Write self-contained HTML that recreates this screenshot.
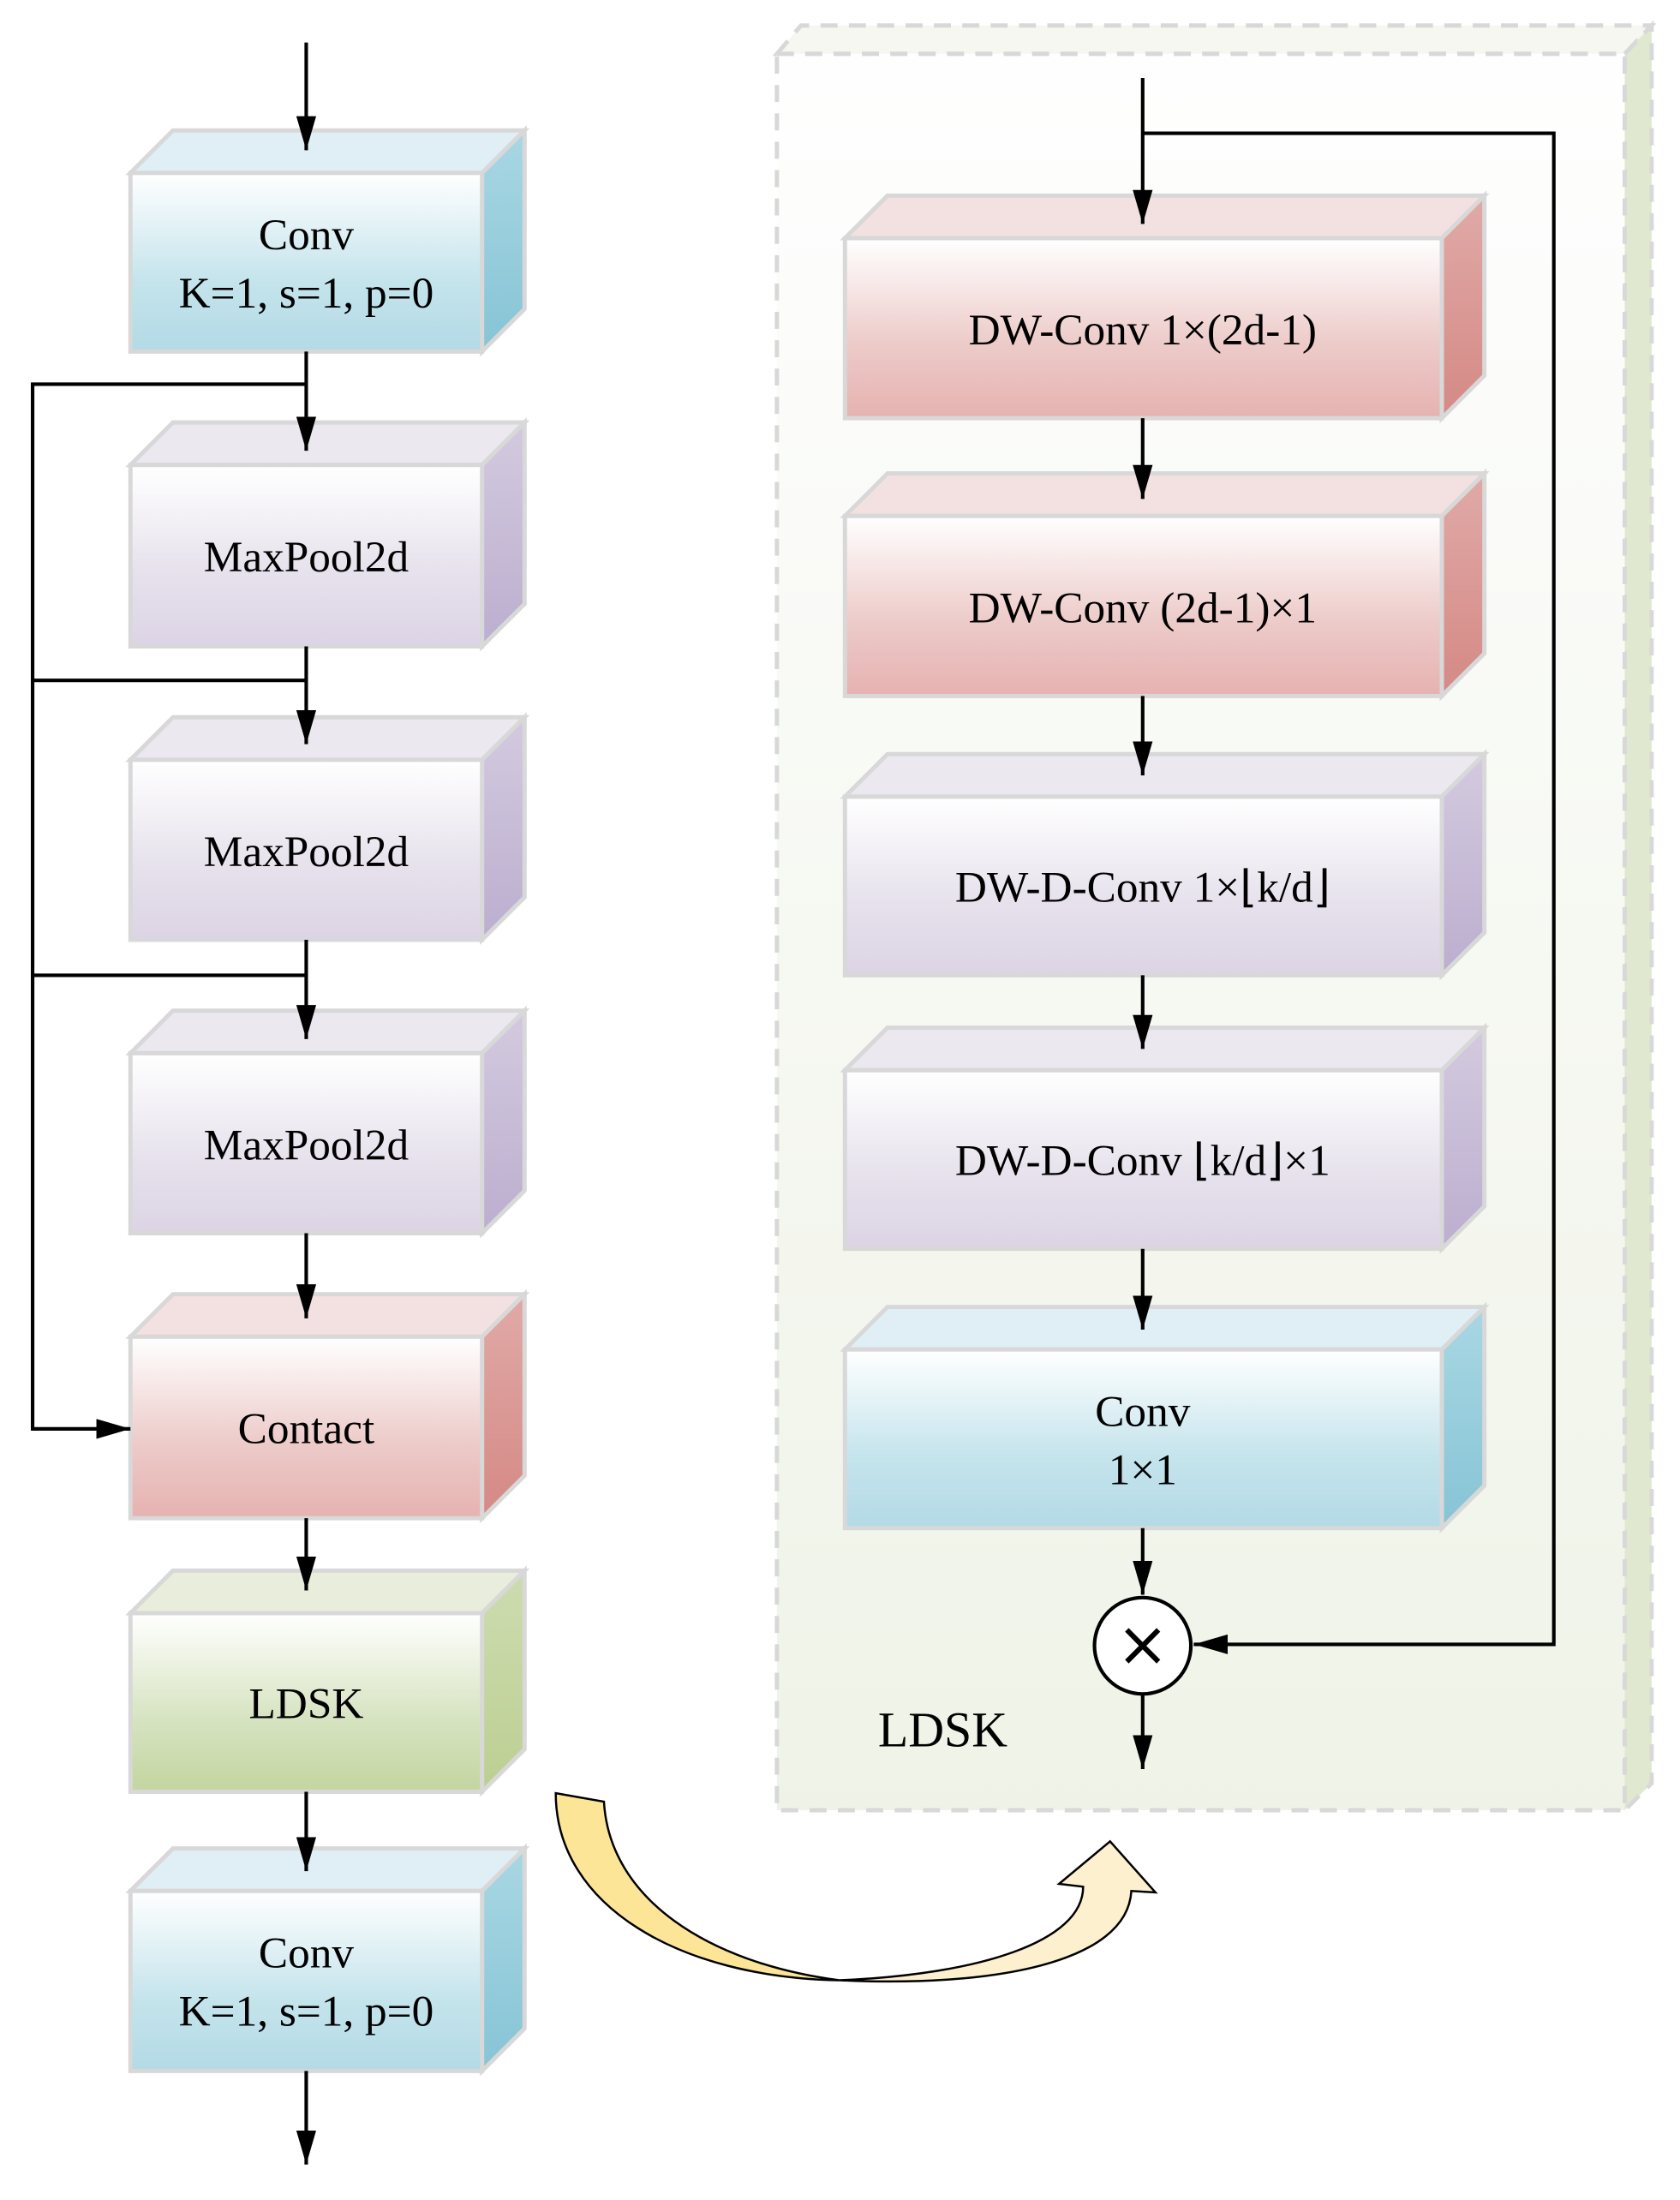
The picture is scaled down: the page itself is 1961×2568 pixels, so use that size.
<!DOCTYPE html>
<html><head><meta charset="utf-8"><style>html,body{margin:0;padding:0;background:#fff}svg{display:block}</style></head>
<body>
<svg width="1961" height="2568" viewBox="0 0 1185 1552" preserveAspectRatio="none" xmlns="http://www.w3.org/2000/svg" font-family="Liberation Serif, serif">
<defs>
<linearGradient id="bF" x1="0" y1="0" x2="0" y2="1"><stop offset="0" stop-color="#ffffff"/><stop offset="0.6" stop-color="#c5e4ec"/><stop offset="1" stop-color="#b3dae6"/></linearGradient>
<linearGradient id="bS" x1="0" y1="0" x2="0" y2="1"><stop offset="0" stop-color="#a9d7e3"/><stop offset="1" stop-color="#86c4d6"/></linearGradient>
<linearGradient id="pF" x1="0" y1="0" x2="0" y2="1"><stop offset="0" stop-color="#ffffff"/><stop offset="0.6" stop-color="#e6e1ec"/><stop offset="1" stop-color="#dcd4e5"/></linearGradient>
<linearGradient id="pS" x1="0" y1="0" x2="0" y2="1"><stop offset="0" stop-color="#d3cadf"/><stop offset="1" stop-color="#bcaecf"/></linearGradient>
<linearGradient id="rF" x1="0" y1="0" x2="0" y2="1"><stop offset="0" stop-color="#ffffff"/><stop offset="0.6" stop-color="#eccac8"/><stop offset="1" stop-color="#e6b2b0"/></linearGradient>
<linearGradient id="rS" x1="0" y1="0" x2="0" y2="1"><stop offset="0" stop-color="#e0aaa7"/><stop offset="1" stop-color="#d58985"/></linearGradient>
<linearGradient id="gF" x1="0" y1="0" x2="0" y2="1"><stop offset="0" stop-color="#ffffff"/><stop offset="0.6" stop-color="#d6e3c0"/><stop offset="1" stop-color="#c3d5a0"/></linearGradient>
<linearGradient id="gS" x1="0" y1="0" x2="0" y2="1"><stop offset="0" stop-color="#cddcb0"/><stop offset="1" stop-color="#bccf92"/></linearGradient>
<linearGradient id="panel" x1="0" y1="0" x2="0" y2="1"><stop offset="0" stop-color="#fefefe"/><stop offset="1" stop-color="#eff3e7"/></linearGradient>
<marker id="ah" viewBox="0 0 24 14" refX="24" refY="7" markerWidth="24" markerHeight="14" orient="auto" markerUnits="userSpaceOnUse"><path d="M0,0 L24,7 L0,14 z" fill="#000"/></marker>
</defs>

<polygon points="548,38 565,18 1165,18 1146,38" fill="#f6f7f1" stroke="#d8d8d8" stroke-width="3" stroke-dasharray="12,8"/>
<polygon points="1146,38 1165,18 1165,1258 1146,1277" fill="#e0e8cf" stroke="#d8d8d8" stroke-width="3" stroke-dasharray="12,8"/>
<rect x="548" y="38" width="598" height="1239" fill="url(#panel)" stroke="#d8d8d8" stroke-width="3" stroke-dasharray="12,8"/>

<g stroke="#d8d8d8" stroke-width="3">
<g><polygon points="92,122 122,92 370,92 340,122" fill="#e0eff5"/><polygon points="340,122 370,92 370,218 340,248" fill="url(#bS)"/><rect x="92" y="122" width="248" height="126" fill="url(#bF)"/></g>
<g><polygon points="92,328 122,298 370,298 340,328" fill="#ebe8f0"/><polygon points="340,328 370,298 370,426 340,456" fill="url(#pS)"/><rect x="92" y="328" width="248" height="128" fill="url(#pF)"/></g>
<g><polygon points="92,536 122,506 370,506 340,536" fill="#ebe8f0"/><polygon points="340,536 370,506 370,633 340,663" fill="url(#pS)"/><rect x="92" y="536" width="248" height="127" fill="url(#pF)"/></g>
<g><polygon points="92,743 122,713 370,713 340,743" fill="#ebe8f0"/><polygon points="340,743 370,713 370,840 340,870" fill="url(#pS)"/><rect x="92" y="743" width="248" height="127" fill="url(#pF)"/></g>
<g><polygon points="92,943 122,913 370,913 340,943" fill="#f3e1e1"/><polygon points="340,943 370,913 370,1041 340,1071" fill="url(#rS)"/><rect x="92" y="943" width="248" height="128" fill="url(#rF)"/></g>
<g><polygon points="92,1138 122,1108 370,1108 340,1138" fill="#e9eedc"/><polygon points="340,1138 370,1108 370,1234 340,1264" fill="url(#gS)"/><rect x="92" y="1138" width="248" height="126" fill="url(#gF)"/></g>
<g><polygon points="92,1334 122,1304 370,1304 340,1334" fill="#e0eff5"/><polygon points="340,1334 370,1304 370,1431 340,1461" fill="url(#bS)"/><rect x="92" y="1334" width="248" height="127" fill="url(#bF)"/></g>
<g><polygon points="596,168 626,138 1047,138 1017,168" fill="#f3e1e1"/><polygon points="1017,168 1047,138 1047,265 1017,295" fill="url(#rS)"/><rect x="596" y="168" width="421" height="127" fill="url(#rF)"/></g>
<g><polygon points="596,364 626,334 1047,334 1017,364" fill="#f3e1e1"/><polygon points="1017,364 1047,334 1047,461 1017,491" fill="url(#rS)"/><rect x="596" y="364" width="421" height="127" fill="url(#rF)"/></g>
<g><polygon points="596,562 626,532 1047,532 1017,562" fill="#ebe8f0"/><polygon points="1017,562 1047,532 1047,658 1017,688" fill="url(#pS)"/><rect x="596" y="562" width="421" height="126" fill="url(#pF)"/></g>
<g><polygon points="596,755 626,725 1047,725 1017,755" fill="#ebe8f0"/><polygon points="1017,755 1047,725 1047,851 1017,881" fill="url(#pS)"/><rect x="596" y="755" width="421" height="126" fill="url(#pF)"/></g>
<g><polygon points="596,952 626,922 1047,922 1017,952" fill="#e0eff5"/><polygon points="1017,952 1047,922 1047,1048 1017,1078" fill="url(#bS)"/><rect x="596" y="952" width="421" height="126" fill="url(#bF)"/></g>
</g>

<g stroke="#000" stroke-width="2.5" fill="none" marker-end="url(#ah)">
<line x1="216" y1="30" x2="216" y2="106"/>
<line x1="216" y1="248" x2="216" y2="318"/>
<line x1="216" y1="456" x2="216" y2="525"/>
<line x1="216" y1="663" x2="216" y2="733"/>
<line x1="216" y1="870" x2="216" y2="930"/>
<line x1="216" y1="1071" x2="216" y2="1122"/>
<line x1="216" y1="1264" x2="216" y2="1320"/>
<line x1="216" y1="1461" x2="216" y2="1527"/>
<polyline points="216,271 23,271 23,1008 92,1008"/>
<line x1="806" y1="55" x2="806" y2="158"/>
<line x1="806" y1="295" x2="806" y2="352"/>
<line x1="806" y1="491" x2="806" y2="547"/>
<line x1="806" y1="688" x2="806" y2="740"/>
<line x1="806" y1="881" x2="806" y2="938"/>
<line x1="806" y1="1078" x2="806" y2="1125"/>
<line x1="806" y1="1196" x2="806" y2="1248"/>
<polyline points="806,94 1096,94 1096,1160 842,1160"/>
</g>
<g stroke="#000" stroke-width="2.5">
<line x1="23" y1="480" x2="216" y2="480"/>
<line x1="23" y1="688" x2="216" y2="688"/>
</g>
<circle cx="806" cy="1161" r="34" fill="#fff" stroke="#000" stroke-width="2.5"/>
<text x="806" y="1175" font-size="44" text-anchor="middle" font-family="DejaVu Sans, sans-serif">×</text>

<g font-size="31" text-anchor="middle" fill="#000">
<text x="216" y="176">Conv</text><text x="216" y="217">K=1, s=1, p=0</text>
<text x="216" y="403">MaxPool2d</text>
<text x="216" y="611">MaxPool2d</text>
<text x="216" y="818">MaxPool2d</text>
<text x="216" y="1018">Contact</text>
<text x="216" y="1212">LDSK</text>
<text x="216" y="1388">Conv</text><text x="216" y="1429">K=1, s=1, p=0</text>
<text x="806" y="243">DW-Conv 1×(2d-1)</text>
<text x="806" y="439">DW-Conv (2d-1)×1</text>
<text x="806" y="636">DW-D-Conv 1×⌊k/d⌋</text>
<text x="806" y="829">DW-D-Conv ⌊k/d⌋×1</text>
<text x="806" y="1006">Conv</text><text x="806" y="1047">1×1</text>
</g>
<text x="665" y="1232" font-size="35" text-anchor="middle">LDSK</text>

<path d="M392,1265 L426,1271 C430,1340 500,1385 592,1397 C480,1395 392,1345 392,1265 Z" fill="#fde598" stroke="#000" stroke-width="1.5"/>
<path d="M592,1397 C690,1393 764,1370 764,1331 L747,1329 L783,1299 L815,1335 L798,1334 C795,1385 700,1402 592,1397 Z" fill="#fdf0cf" stroke="#000" stroke-width="1.5"/>
</svg>
</body></html>
